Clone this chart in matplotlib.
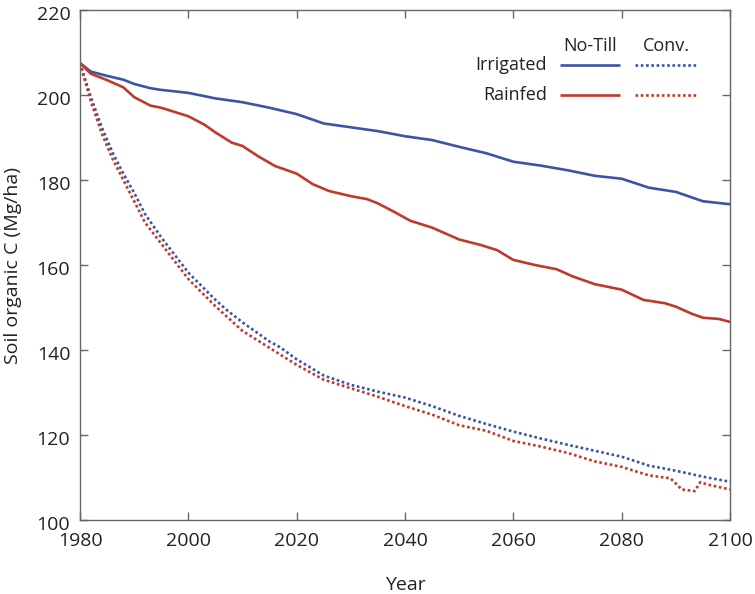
import matplotlib
matplotlib.use('Agg')
import matplotlib.pyplot as plt
import matplotlib.transforms as mtransforms
from matplotlib.lines import Line2D

plt.rcParams['font.family'] = ['Open Sans', 'DejaVu Sans']

BLUE = '#3b54a4'
RED = '#bf3a2b'

# irrigated, no-till (solid blue)
irr_nt_year = [1980, 1982, 1985, 1988, 1990, 1993, 1995, 2000, 2005, 2010, 2015, 2020,
               2025, 2030, 2035, 2040, 2045, 2050, 2055, 2060, 2065, 2070, 2075, 2080,
               2085, 2090, 2095, 2100]
irr_nt_soc = [207.5, 205.5, 204.5, 203.6, 202.6, 201.6, 201.2, 200.5, 199.2, 198.3, 197.0,
              195.5, 193.3, 192.4, 191.5, 190.3, 189.4, 187.8, 186.3, 184.3, 183.4, 182.3,
              181.0, 180.3, 178.2, 177.2, 175.0, 174.3]

# rainfed, no-till (solid red)
rf_nt_year = [1980, 1982, 1985, 1988, 1990, 1993, 1995, 2000, 2003, 2005, 2008, 2010,
              2013, 2016, 2020, 2023, 2026, 2030, 2033, 2035, 2038, 2041, 2045, 2050,
              2054, 2057, 2060, 2064, 2068, 2071, 2075, 2080, 2084, 2088, 2090, 2093,
              2095, 2098, 2100]
rf_nt_soc = [207.5, 205.0, 203.5, 201.8, 199.5, 197.5, 197.0, 195.0, 193.0, 191.2, 188.8,
             188.0, 185.5, 183.3, 181.5, 179.0, 177.4, 176.2, 175.5, 174.5, 172.5, 170.4,
             168.8, 166.0, 164.7, 163.5, 161.2, 160.0, 159.0, 157.3, 155.5, 154.2, 151.8,
             151.0, 150.2, 148.5, 147.6, 147.3, 146.6]

# irrigated, conventional tillage (dotted blue)
irr_cv_year = [1980, 1982, 1984, 1986, 1988, 1990, 1992, 1995, 2000, 2005, 2007, 2010,
               2015, 2017, 2020, 2025, 2030, 2035, 2040, 2045, 2050, 2055, 2060, 2065,
               2070, 2075, 2080, 2085, 2090, 2095, 2100]
irr_cv_soc = [207.5, 199.5, 192.5, 186.5, 181.5, 177.0, 172.0, 166.5, 158.2, 151.8, 149.5,
              146.5, 142.0, 140.6, 137.8, 134.0, 131.8, 130.2, 128.8, 126.8, 124.5, 122.6,
              120.8, 119.2, 117.7, 116.3, 114.9, 112.8, 111.6, 110.2, 109.0]

# rainfed, conventional tillage (dotted red)
rf_cv_year = [1980, 1982, 1984, 1986, 1988, 1990, 1992, 1995, 2000, 2005, 2010, 2015,
              2020, 2025, 2030, 2035, 2040, 2045, 2050, 2055, 2060, 2065, 2070, 2075,
              2080, 2085, 2089, 2090.5, 2091, 2093.5, 2094.5, 2096, 2100]
rf_cv_soc = [207.5, 198.5, 191.0, 185.0, 180.0, 175.0, 170.0, 165.0, 156.7, 150.3, 144.5,
             140.5, 136.5, 133.0, 131.0, 129.0, 126.8, 124.8, 122.3, 121.0, 118.6, 117.3,
             115.8, 113.8, 112.5, 110.5, 109.8, 108.0, 107.2, 106.8, 108.9, 108.3, 107.2]

x_ticks = [1980, 2000, 2020, 2040, 2060, 2080, 2100]
y_ticks = [100, 120, 140, 160, 180, 200, 220]


def main():
    fig = plt.figure(figsize=(7.55, 5.94), dpi=100)
    ax = fig.add_axes([80 / 755, 74 / 594, 650 / 755, 510 / 594])

    solid = dict(lw=1.9, solid_capstyle='butt', solid_joinstyle='round')
    dotted = dict(lw=1.9, linestyle=(0, (1, 1)), dash_capstyle='butt')

    ax.plot(irr_cv_year, irr_cv_soc, color=BLUE, **dotted)
    ax.plot(rf_cv_year, rf_cv_soc, color=RED, **dotted)
    ax.plot(irr_nt_year, irr_nt_soc, color=BLUE, **solid)
    ax.plot(rf_nt_year, rf_nt_soc, color=RED, **solid)

    ax.set_xlim(1980, 2100)
    ax.set_ylim(100, 220)
    ax.set_xticks(x_ticks)
    ax.set_yticks(y_ticks)
    ax.tick_params(direction='in', length=6, width=1, color='#666666',
                   top=True, right=True, labelsize=14, labelcolor='#222222')
    ax.tick_params(axis='x', pad=9)
    ax.tick_params(axis='y', pad=7)
    for sp in ax.spines.values():
        sp.set_color('#666666')
        sp.set_linewidth(1)

    # y tick labels sit a touch below their ticks in the original
    shift = mtransforms.ScaledTranslation(0, -2 / 72, fig.dpi_scale_trans)
    for lab in ax.get_yticklabels():
        lab.set_transform(lab.get_transform() + shift)

    ax.set_xlabel('Year', fontsize=14, color='#222222', va='center')
    ax.xaxis.set_label_coords(0.5, -0.128)
    ax.set_ylabel('Soil organic C (Mg/ha)', fontsize=14, color='#222222', va='center')
    ax.yaxis.set_label_coords(-0.103, 0.5)

    # legend laid out as a little table: columns = tillage, rows = water
    tr = ax.transAxes
    ax.text(0.785, 0.930, 'No-Till', transform=tr, ha='center', va='center',
            fontsize=13, color='#222222')
    ax.text(0.902, 0.930, 'Conv.', transform=tr, ha='center', va='center',
            fontsize=13, color='#222222')
    for label, yy, col in [('Irrigated', 0.893, BLUE), ('Rainfed', 0.833, RED)]:
        ax.text(0.718, yy, label, transform=tr, ha='right', va='center',
                fontsize=13, color='#222222')
        ax.add_line(Line2D([0.738, 0.831], [yy, yy], transform=tr, color=col, **solid))
        ax.add_line(Line2D([0.854, 0.949], [yy, yy], transform=tr, color=col, **dotted))

    fig.savefig('out.png', dpi=100)
    plt.close(fig)


if __name__ == '__main__':
    main()
